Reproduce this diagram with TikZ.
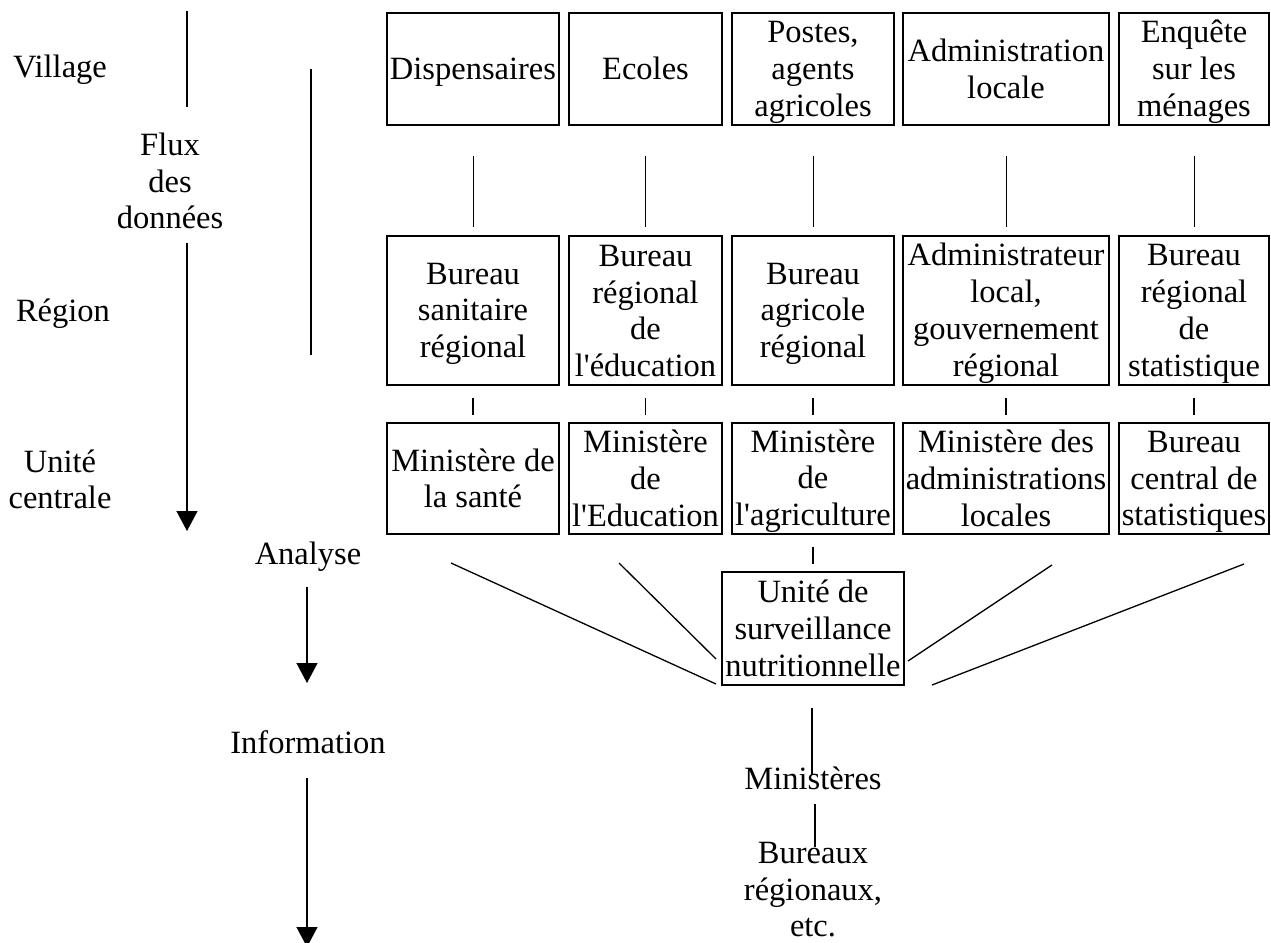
\documentclass[tikz,border=0pt]{standalone}
\usepackage{fontspec}
\setmainfont{Liberation Serif}[Ligatures=TeXOff]
\usetikzlibrary{arrows.meta}
\newcommand\ms{\rule[-6pt]{0pt}{34pt}}
\begin{document}
\begin{tikzpicture}[x=1pt,y=-1pt,
  every node/.style={font=\fontsize{32.5}{36.7}\selectfont, inner sep=0pt, align=center},
  box/.style={draw, line width=1.8pt, minimum height=#1},
  box/.default=112pt,
  link/.style={line width=1pt},
  side/.style={line width=1.3pt},
  fan/.style={line width=1.3pt},
  flow/.style={line width=1.3pt, -{Triangle[width=21pt,length=20pt]}},
]
\fill[white] (0,0) rectangle (1271,942);
\useasboundingbox (0,0) rectangle (1271,942);

% left labels
\node (village) at (60,67) {\ms Village};
\node (flux) at (170,181) {\ms Flux\\\ms des\\\ms données};
\node (region) at (63,311) {\ms Région};
\node (unite) at (60,479.5) {\ms Unité\\\ms centrale};
\node (analyse) at (308,554) {\ms Analyse};
\node (info) at (308,742) {\ms Information};

\coordinate (s1a) at (187,11);  \coordinate (s1b) at (187,107);
\coordinate (s2a) at (187,243); \coordinate (s2b) at (187,531);
\coordinate (s3a) at (311,69);  \coordinate (s3b) at (311,355);
\coordinate (s4a) at (307,587); \coordinate (s4b) at (307,683);
\coordinate (s5a) at (307,778); \coordinate (s5b) at (307,947);
\draw[side] (s1a) -- (s1b);
\draw[flow] (s2a) -- (s2b);
\draw[side] (s3a) -- (s3b);
\draw[flow] (s4a) -- (s4b);
\draw[flow] (s5a) -- (s5b);

% village row
\node[box, minimum width=172pt] (v1) at (473,69) {\ms Dispensaires};
\node[box, minimum width=153pt] (v2) at (645.5,69) {\ms Ecoles};
\node[box, minimum width=162pt] (v3) at (813,69) {\ms Postes,\\\ms agents\\\ms agricoles};
\node[box, minimum width=206pt] (v4) at (1006,69) {\ms Administration\\\ms locale};
\node[box, minimum width=150pt] (v5) at (1194,69) {\ms Enquête\\\ms sur les\\\ms ménages};

% region row
\node[box=149pt, minimum width=172pt] (r1) at (473,310.5) {\ms Bureau\\\ms sanitaire\\\ms régional};
\node[box=149pt, minimum width=153pt] (r2) at (645.5,310.5) {\ms Bureau\\\ms régional\\\ms de\\\ms l'éducation};
\node[box=149pt, minimum width=162pt] (r3) at (813,310.5) {\ms Bureau\\\ms agricole\\\ms régional};
\node[box=149pt, minimum width=206pt] (r4) at (1006,310.5) {\ms Administrateur\\\ms local,\\\ms gouvernement\\\ms régional};
\node[box=149pt, minimum width=150pt] (r5) at (1194,310.5) {\ms Bureau\\\ms régional\\\ms de\\\ms statistique};

% central row
\node[box=111pt, minimum width=172pt] (m1) at (473,478.5) {\ms Ministère de\\\ms la santé};
\node[box=111pt, minimum width=153pt] (m2) at (645.5,478.5) {\ms Ministère\\\ms de\\\ms l'Education};
\node[box=111pt, minimum width=162pt] (m3) at (813,478.5) {\ms Ministère\\\ms de\\\ms l'agriculture};
\node[box=111pt, minimum width=206pt] (m4) at (1006,478.5) {\ms Ministère des\\\ms administrations\\\ms locales};
\node[box=111pt, minimum width=150pt] (m5) at (1194,478.5) {\ms Bureau\\\ms central de\\\ms statistiques};

% unit
\node[box=113pt, minimum width=182pt] (u) at (813,628.5) {\ms Unité de\\\ms surveillance\\\ms nutritionnelle};

% bottom labels
\node (min) at (813,778) {\ms Ministères};
\node (bur) at (813,889) {\ms Bureaux\\\ms régionaux,\\\ms etc.};

% connectors
\foreach \i in {1,...,5}{
  \draw[link, shorten <=30pt, shorten >=8pt] (v\i.south) -- (r\i.north);
  \draw[link, line width=1.5pt, shorten <=12pt, shorten >=7pt] (r\i.south) -- (m\i.north);
}
\draw[link, line width=1.5pt, shorten <=12pt, shorten >=7pt] (m3.south) -- (u.north);

\coordinate (a1) at (451,563);  \coordinate (b1) at (716,684);
\coordinate (a2) at (619,563);  \coordinate (b2) at (716,659);
\coordinate (a3) at (1052,565); \coordinate (b3) at (908,661);
\coordinate (a4) at (1244,564); \coordinate (b4) at (932,685);
\draw[fan] (a1) -- (b1);
\draw[fan] (a2) -- (b2);
\draw[fan] (a3) -- (b3);
\draw[fan] (a4) -- (b4);

\draw[link, line width=1.3pt, shorten <=22pt, shorten >=3pt] ([xshift=-1pt]u.south) -- ([xshift=-1pt]min.center);
\draw[link, line width=1.3pt, shorten <=26pt, shorten >=42pt] ([xshift=2pt]min.center) -- ([xshift=2pt]bur.center);
\end{tikzpicture}
\end{document}
